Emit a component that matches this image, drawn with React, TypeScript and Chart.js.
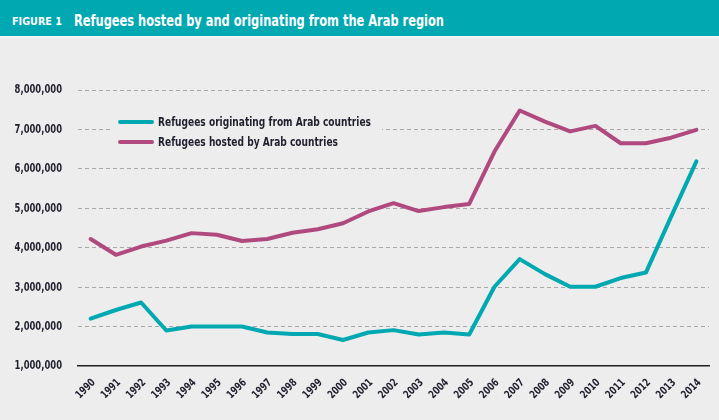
import React, { useEffect, useRef } from "react";
import { Chart, registerables } from "chart.js";

Chart.register(...registerables);

const years = ["1990","1991","1992","1993","1994","1995","1996","1997","1998","1999","2000","2001","2002","2003","2004","2005","2006","2007","2008","2009","2010","2011","2012","2013","2014"];
const originating = [2200000,2420000,2610000,1900000,2000000,2000000,2000000,1850000,1810000,1810000,1660000,1850000,1910000,1800000,1850000,1800000,3010000,3710000,3330000,3010000,3010000,3230000,3370000,4790000,6190000];
const hosted = [4220000,3820000,4030000,4180000,4370000,4330000,4170000,4220000,4380000,4470000,4620000,4920000,5130000,4930000,5030000,5110000,6440000,7480000,7200000,6950000,7090000,6650000,6650000,6790000,6990000];
const seriesLabels = ["Refugees originating from Arab countries", "Refugees hosted by Arab countries"];
const seriesColors = ["#00a9b1", "#b04a7e"];
const titleText = "Refugees hosted by and originating from the Arab region";
const figureLabel = "FIGURE 1";

const FONT = "'DejaVu Sans Condensed', 'Liberation Sans Narrow', 'Open Sans', sans-serif";
const BG = "#ededed";
const TXT = "#1f1f2e";

function measure(text: string, font: string) {
  const c = document.createElement("canvas").getContext("2d")!;
  c.font = font;
  return c.measureText(text).width;
}

// draws text horizontally condensed by factor k (emulating a condensed typeface)
function condensedText(ctx: CanvasRenderingContext2D, text: string, x: number, y: number, k: number) {
  ctx.save();
  ctx.translate(x, y);
  ctx.scale(k, 1);
  ctx.fillText(text, 0, 0);
  ctx.restore();
}

const tickPlugin = {
  id: "condensedTicks",
  afterDraw(chart: any) {
    const ctx = chart.ctx as CanvasRenderingContext2D;
    const ys = chart.scales.y;
    const xs = chart.scales.x;
    ctx.save();
    ctx.fillStyle = TXT;
    ctx.font = `bold 13px ${FONT}`;
    ctx.textAlign = "right";
    ctx.textBaseline = "middle";
    ys.ticks.forEach((t: any, i: number) => {
      const y = ys.getPixelForTick(i);
      const label = Number(t.value).toLocaleString("en-US");
      condensedText(ctx, label, 62, y, 0.72);
    });
    ctx.font = `bold 11px ${FONT}`;
    ctx.textAlign = "right";
    ctx.textBaseline = "middle";
    xs.ticks.forEach((t: any, i: number) => {
      const x = xs.getPixelForTick(i);
      const label = xs.getLabelForValue(t.value);
      ctx.save();
      ctx.translate(x + 3, xs.top + 15);
      ctx.rotate(-Math.PI / 4);
      ctx.scale(0.82, 1);
      ctx.fillText(label, 0, 0);
      ctx.restore();
    });
    ctx.restore();
  },
};

const legendPlugin = {
  id: "insideLegend",
  afterDraw(chart: any) {
    const ctx = chart.ctx as CanvasRenderingContext2D;
    ctx.save();
    ctx.fillStyle = BG;
    ctx.fillRect(113, 112, 269, 40);
    ctx.font = `bold 13px ${FONT}`;
    const k = 213 / ctx.measureText(chart.data.datasets[0].label).width;
    chart.data.datasets.forEach((ds: any, i: number) => {
      const y = 122 + i * 20;
      ctx.strokeStyle = ds.borderColor;
      ctx.lineWidth = 4;
      ctx.lineCap = "round";
      ctx.beginPath();
      ctx.moveTo(120, y);
      ctx.lineTo(152, y);
      ctx.stroke();
      ctx.fillStyle = TXT;
      ctx.textBaseline = "middle";
      ctx.textAlign = "left";
      condensedText(ctx, ds.label, 158, y + 0.5, k);
    });
    ctx.restore();
  },
};

export default function App() {
  const ref = useRef<HTMLCanvasElement>(null);
  useEffect(() => {
    if (!ref.current) return;
    const chart = new Chart(ref.current, {
      type: "line",
      data: {
        labels: years,
        datasets: [
          { label: seriesLabels[0], data: originating, borderColor: seriesColors[0], backgroundColor: seriesColors[0], borderWidth: 4, pointRadius: 0, tension: 0, borderJoinStyle: "round", borderCapStyle: "round" },
          { label: seriesLabels[1], data: hosted, borderColor: seriesColors[1], backgroundColor: seriesColors[1], borderWidth: 4, pointRadius: 0, tension: 0, borderJoinStyle: "round", borderCapStyle: "round" },
        ],
      },
      options: {
        responsive: false,
        animation: false,
        layout: { padding: { top: 90, right: 10, left: 0, bottom: 0 } },
        plugins: { legend: { display: false }, tooltip: { enabled: false }, title: { display: false } },
        scales: {
          x: {
            offset: true,
            grid: { display: false, drawTicks: false },
            border: { display: true, color: "#222", width: 1.5 },
            ticks: { display: false, autoSkip: false },
            afterFit: (s: any) => { s.height = 54; },
          },
          y: {
            min: 1000000,
            max: 8000000,
            grid: {
              drawTicks: false,
              lineWidth: 1,
              color: (c: any) => (c.tick && c.tick.value === 1000000 ? "rgba(0,0,0,0)" : "#a8a8a8"),
            },
            border: { display: false, dash: [4, 3] },
            ticks: { display: false, stepSize: 1000000 },
            afterFit: (s: any) => { s.width = 78; },
          },
        },
      },
      plugins: [tickPlugin, legendPlugin],
    });
    return () => chart.destroy();
  }, []);

  const figFont = `bold 10px ${FONT}`;
  const titleFont = `bold 16px ${FONT}`;
  const kFig = 50 / measure(figureLabel, figFont);
  const kTitle = 370 / measure(titleText, titleFont);

  return (
    <div style={{ position: "absolute", left: 0, top: 0, width: 719, height: 420, background: BG, overflow: "hidden" }}>
      <canvas ref={ref} width={719} height={420} style={{ position: "absolute", left: 0, top: 0, width: 719, height: 420 }} />
      <div style={{ position: "absolute", left: 0, top: 0, width: 719, height: 36, background: "#00a8b1", borderBottom: "2px solid #f4f4f4", color: "#fff" }}>
        <span style={{ position: "absolute", left: 12, top: 15.5, font: figFont, lineHeight: "normal", whiteSpace: "nowrap", transform: `scaleX(${kFig})`, transformOrigin: "left top" }}>{figureLabel}</span>
        <span style={{ position: "absolute", left: 74, top: 10.5, font: titleFont, lineHeight: "normal", whiteSpace: "nowrap", transform: `scaleX(${kTitle})`, transformOrigin: "left top" }}>{titleText}</span>
      </div>
    </div>
  );
}
